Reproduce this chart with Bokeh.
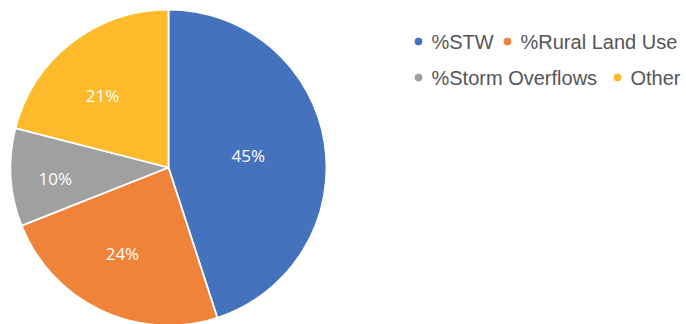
import numpy as np
from bokeh.plotting import figure
from bokeh.models import ColumnDataSource, Range1d
from bokeh.core.properties import value
from bokeh.embed import file_html
from bokeh.resources import INLINE

# Share of sources
categories = ["%STW", "%Rural Land Use", "%Storm Overflows", "Other"]
shares = [45, 24, 10, 21]
colors = ["#4472BD", "#EF8339", "#A0A0A0", "#FDBA2A"]

W, H = 686, 324
p = figure(width=W, height=H, output_backend="svg", toolbar_location=None,
           x_range=Range1d(0, W), y_range=Range1d(0, H),
           min_border=0, outline_line_color=None)
p.axis.visible = False
p.grid.visible = False
p.background_fill_color = "white"
p.border_fill_color = "white"

# Pie geometry (pixel space, y up)
cx, cy, R = 168, 157, 158
frac = np.array(shares, dtype=float) / sum(shares)
cum = np.concatenate([[0], np.cumsum(frac)])
start = np.pi / 2 - cum[1:] * 2 * np.pi
end = np.pi / 2 - cum[:-1] * 2 * np.pi
mid = (start + end) / 2

src = ColumnDataSource(dict(start=start, end=end, color=colors,
                            cat=categories, share=shares))
p.wedge(x=cx, y=cy, radius=R, start_angle="start", end_angle="end",
        direction="anticlock", fill_color="color", line_color="white",
        line_width=1.8, source=src)

# Data labels inside slices (radius fraction and small angular nudge per slice)
label_r = [0.51, 0.62, 0.72, 0.62]
label_nudge = [-0.01, -0.05, 0.035, 0.08]
ang = mid + np.array(label_nudge)
lx = cx + np.array(label_r) * R * np.cos(ang)
ly = cy + np.array(label_r) * R * np.sin(ang)
p.text(x=lx, y=ly, text=[f"{s}%" for s in shares], text_color="white",
       text_font=value("Open Sans"), text_font_size="17px",
       text_align="center", text_baseline="middle")

# Legend in two rows
leg_marker_x = [418, 507, 418, 617]
leg_y = [H - 41, H - 41, H - 77, H - 77]
p.scatter(x=leg_marker_x, y=leg_y, size=7, color=colors, marker="circle")
p.text(x=[m + 13 for m in leg_marker_x], y=leg_y, text=categories,
       text_color="#555555", text_font=value("Liberation Sans"),
       text_font_size="20px", text_align="left", text_baseline="middle")

open("out.html", "w").write(file_html(p, INLINE))
